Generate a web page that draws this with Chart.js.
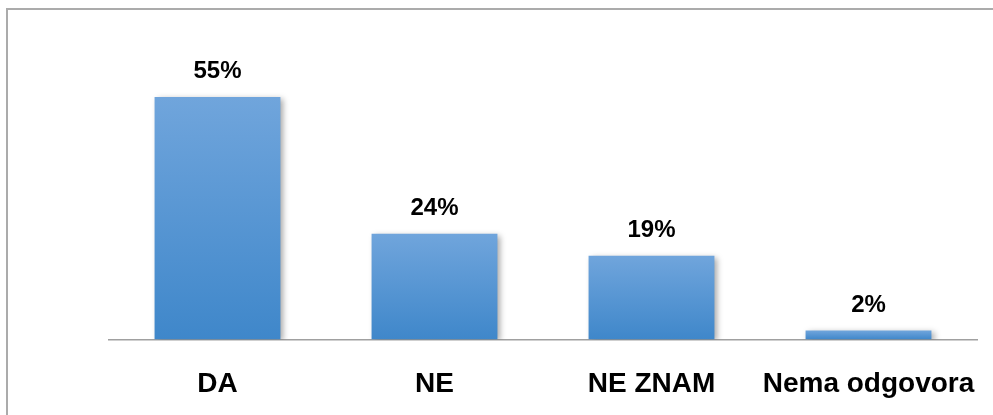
<!DOCTYPE html>
<html>
<head>
<meta charset="utf-8">
<script src="https://cdn.jsdelivr.net/npm/chart.js@4/dist/chart.umd.min.js"></script>
<style>
html,body{margin:0;padding:0;background:#fff;overflow:hidden;}
#wrap{position:relative;width:993px;height:415px;}
#frame{position:absolute;left:6px;top:8px;width:1100px;height:600px;border:2px solid #ababab;box-sizing:border-box;}
canvas{position:absolute;left:0;top:0;}
</style>
</head>
<body>
<div id="wrap">
<div id="frame"></div>
<canvas id="c" width="993" height="415"></canvas>
</div>
<script>
const categories = ["DA", "NE", "NE ZNAM", "Nema odgovora"];
const values = [55, 24, 19, 2];
const valueLabels = ["55%", "24%", "19%", "2%"];

function barFill(context) {
  const chart = context.chart;
  if (!chart.chartArea || !chart.scales.y || context.raw === undefined) return '#5596d4';
  const y = chart.scales.y.getPixelForValue(context.raw);
  const base = chart.scales.y.getPixelForValue(0);
  if (!isFinite(y) || !isFinite(base) || base - y < 0.5) return '#5596d4';
  const g = chart.ctx.createLinearGradient(0, y, 0, base);
  g.addColorStop(0, '#70a5dc');
  g.addColorStop(1, '#3f87ca');
  return g;
}

const labelPlugin = {
  id: 'barLabels',
  beforeDatasetsDraw(chart) {
    const ctx = chart.ctx;
    ctx.save();
    ctx.shadowColor = 'rgba(0,0,0,0.35)';
    ctx.shadowBlur = 6;
    ctx.shadowOffsetX = 3;
    ctx.shadowOffsetY = 2;
  },
  afterDatasetsDraw(chart) {
    chart.ctx.restore();
    const ctx = chart.ctx;
    const meta = chart.getDatasetMeta(0);
    ctx.save();
    ctx.fillStyle = '#000';
    ctx.font = 'bold 24px "Liberation Sans", Arial, sans-serif';
    ctx.textAlign = 'center';
    ctx.textBaseline = 'alphabetic';
    meta.data.forEach((el, i) => {
      ctx.fillText(valueLabels[i], el.x, el.y - 19);
    });
    ctx.restore();
  }
};

new Chart(document.getElementById('c'), {
  type: 'bar',
  data: {
    labels: categories,
    datasets: [{
      data: values,
      backgroundColor: barFill,
      borderWidth: 0,
      categoryPercentage: 1.0,
      barPercentage: 0.58
    }]
  },
  options: {
    responsive: false,
    animation: false,
    layout: { padding: { left: 109, right: 16, top: 75, bottom: 10 } },
    plugins: { legend: { display: false }, tooltip: { enabled: false } },
    scales: {
      y: {
        display: false,
        min: 0,
        max: 60
      },
      x: {
        afterFit(scale) { scale.height -= 24; scale.paddingLeft = 0; scale.paddingRight = 0; },
        grid: { display: false, drawTicks: false },
        border: { display: true, color: '#a0a0a0', width: 1.5 },
        ticks: {
          color: '#000',
          padding: 28,
          maxRotation: 0,
          autoSkip: false,
          font: { family: '"Liberation Sans", Arial, sans-serif', size: 28, weight: 'bold' }
        }
      }
    }
  },
  plugins: [labelPlugin]
});
</script>
</body>
</html>
